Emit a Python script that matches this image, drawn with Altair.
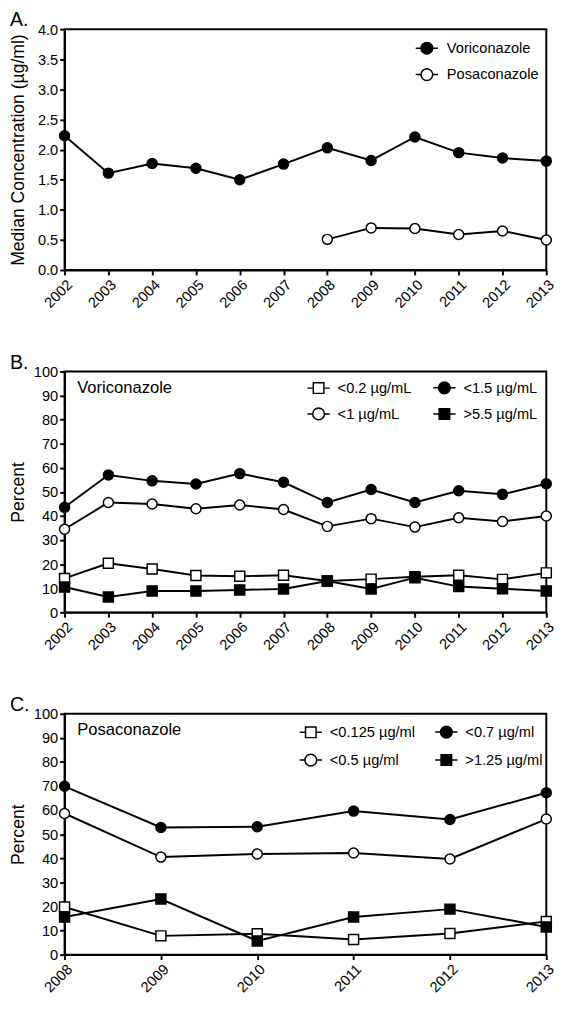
import altair as alt
import pandas as pd

FONT = "Liberation Sans"

# ---------------- data ----------------
years_vori = [2002, 2003, 2004, 2005, 2006, 2007, 2008, 2009, 2010, 2011, 2012, 2013]
years_posa = [2008, 2009, 2010, 2011, 2012, 2013]

# Panel A: median concentration (µg/ml)
vori_median = [2.23, 1.61, 1.77, 1.69, 1.50, 1.76, 2.03, 1.82, 2.21, 1.95, 1.86, 1.81]
posa_median = [0.51, 0.70, 0.69, 0.59, 0.65, 0.50]

# Panel B: voriconazole percent
vori_lt02 = [14.1, 20.4, 18.0, 15.3, 15.0, 15.4, 13.0, 13.8, 14.8, 15.4, 13.7, 16.4]
vori_lt1 = [34.5, 45.6, 45.0, 43.0, 44.6, 42.7, 35.7, 38.9, 35.4, 39.3, 37.7, 40.0]
vori_lt15 = [43.6, 57.0, 54.6, 53.3, 57.6, 54.0, 45.6, 51.0, 45.6, 50.5, 49.0, 53.4]
vori_gt55 = [10.5, 6.4, 8.9, 8.9, 9.3, 9.7, 13.0, 9.7, 14.4, 10.7, 9.8, 8.9]

# Panel C: posaconazole percent
posa_lt0125 = [19.8, 7.8, 8.7, 6.3, 8.8, 13.8]
posa_lt05 = [58.6, 40.5, 41.8, 42.2, 39.7, 56.3]
posa_lt07 = [69.9, 52.8, 53.1, 59.6, 56.1, 67.2]
posa_gt125 = [15.6, 23.1, 5.7, 15.6, 18.9, 11.5]

# series names (legend fills column by column)
names_b = ["<0.2 µg/mL", "<1 µg/mL", "<1.5 µg/mL", ">5.5 µg/mL"]
names_c = ["<0.125 µg/ml", "<0.5 µg/ml", "<0.7 µg/ml", ">1.25 µg/ml"]

pct_ticks = [0, 10, 20, 30, 40, 50, 60, 70, 80, 90, 100]
conc_ticks = [0, 0.5, 1.0, 1.5, 2.0, 2.5, 3.0, 3.5, 4.0]

LEG_CIRCLE = "M-1.9,0L-1,0M1,0L1.9,0M-1,0A1,1,0,1,1,1,0A1,1,0,1,1,-1,0Z"
LEG_SQUARE = "M-1.9,0L-0.9,0M0.9,0L1.9,0M-0.9,-0.9L0.9,-0.9L0.9,0.9L-0.9,0.9Z"

H = 247


def make_panel(series, styles, ydomain, yvalues, yfmt, ytitle, letter, note, leg):
    rows = []
    for name, yrs, vals in series:
        for yr, v in zip(yrs, vals):
            rows.append({"year": yr, "value": v, "series": name})
    df = pd.DataFrame(rows)
    names = [s[0] for s in series]
    shapes = [s for s, _ in styles]
    fills = [f for _, f in styles]
    leg_shapes = [LEG_CIRCLE if s == "circle" else LEG_SQUARE for s in shapes]
    all_years = sorted(set(df["year"]))

    x = alt.X("year:Q",
              scale=alt.Scale(domain=[all_years[0], all_years[-1]], nice=False, zero=False),
              axis=alt.Axis(values=all_years, format="d", labelAngle=-45, title=None,
                            labelPadding=2))
    y = alt.Y("value:Q", scale=alt.Scale(domain=ydomain, nice=False),
              axis=alt.Axis(values=yvalues, format=yfmt, title=ytitle, titleX=-38,
                            titleY=H / 2, labelPadding=2))
    base = alt.Chart(df)
    lines = base.mark_line(color="black", strokeWidth=2).encode(x=x, y=y, detail="series:N")
    pts = base.mark_point(filled=True, stroke="black", strokeWidth=1.5, size=105, opacity=1).encode(
        x=x, y=y,
        shape=alt.Shape("series:N", scale=alt.Scale(domain=names, range=shapes), legend=None),
        fill=alt.Fill("series:N", scale=alt.Scale(domain=names, range=fills), legend=None),
    )
    lg = alt.Legend(title=None, orient="none", legendX=leg["x"], legendY=leg["y"],
                    columns=leg["cols"], columnPadding=leg["cp"], rowPadding=leg["rp"],
                    labelOffset=leg["lo"], symbolSize=144, symbolStrokeColor="black",
                    symbolStrokeWidth=1.5, labelFontSize=15, labelFont=FONT,
                    labelColor="black", padding=0, symbolOpacity=1)
    legl = base.mark_point(filled=True, strokeWidth=1.5, size=144, opacity=1).encode(
        x=x, y=y,
        shape=alt.Shape("series:N", scale=alt.Scale(domain=names, range=leg_shapes), legend=lg),
        fill=alt.Fill("series:N", scale=alt.Scale(domain=names, range=fills), legend=lg),
        stroke=alt.Stroke("series:N", scale=alt.Scale(domain=names, range=["black"] * len(names)),
                          legend=lg),
    ).transform_filter("datum.value < -1000")

    layers = [lines, pts, legl]
    let = alt.Chart(pd.DataFrame({"t": [letter]})).mark_text(
        align="left", baseline="top", fontSize=20, font=FONT, color="black"
    ).encode(x=alt.value(-56), y=alt.value(-19), text="t:N")
    layers.append(let)
    if note:
        nt = alt.Chart(pd.DataFrame({"t": [note]})).mark_text(
            align="left", baseline="middle", fontSize=17, font=FONT, color="black"
        ).encode(x=alt.value(13), y=alt.value(17), text="t:N")
        layers.append(nt)
    return alt.layer(*layers).resolve_scale(
        shape="independent", fill="independent", stroke="independent"
    ).properties(width=494, height=H)


pA = make_panel(
    [("Voriconazole", years_vori, vori_median), ("Posaconazole", years_posa, posa_median)],
    [("circle", "black"), ("circle", "white")],
    [0, 4], conc_ticks, ".1f", "Median Concentration (µg/ml)", "A.", None,
    {"x": 364, "y": 12, "cols": 1, "cp": 10, "rp": 8, "lo": 13},
)
pB = make_panel(
    [(names_b[0], years_vori, vori_lt02), (names_b[1], years_vori, vori_lt1),
     (names_b[2], years_vori, vori_lt15), (names_b[3], years_vori, vori_gt55)],
    [("square", "white"), ("circle", "white"), ("circle", "black"), ("square", "black")],
    [0, 100], pct_ticks, "d", "Percent", "B.", "Voriconazole",
    {"x": 253, "y": 9, "cols": 2, "cp": 19, "rp": 8, "lo": 12},
)
pC = make_panel(
    [(names_c[0], years_posa, posa_lt0125), (names_c[1], years_posa, posa_lt05),
     (names_c[2], years_posa, posa_lt07), (names_c[3], years_posa, posa_gt125)],
    [("square", "white"), ("circle", "white"), ("circle", "black"), ("square", "black")],
    [0, 100], pct_ticks, "d", "Percent", "C.", "Posaconazole",
    {"x": 245, "y": 11, "cols": 2, "cp": 17, "rp": 10, "lo": 12},
)

chart = alt.vconcat(pA, pB, pC, spacing=41).properties(
    padding={"left": 0, "top": -11, "right": 0, "bottom": 0}
).configure(font=FONT).configure_axis(
    domainColor="black", domainWidth=2, tickColor="black", tickWidth=2, tickSize=5,
    labelFont=FONT, labelFontSize=15, labelColor="black",
    titleFont=FONT, titleFontSize=18, titleFontWeight="normal", titleColor="black",
    grid=False,
).configure_view(stroke="black", strokeWidth=2)

chart.save("out.html", embed_options={"renderer": "svg", "actions": False})
